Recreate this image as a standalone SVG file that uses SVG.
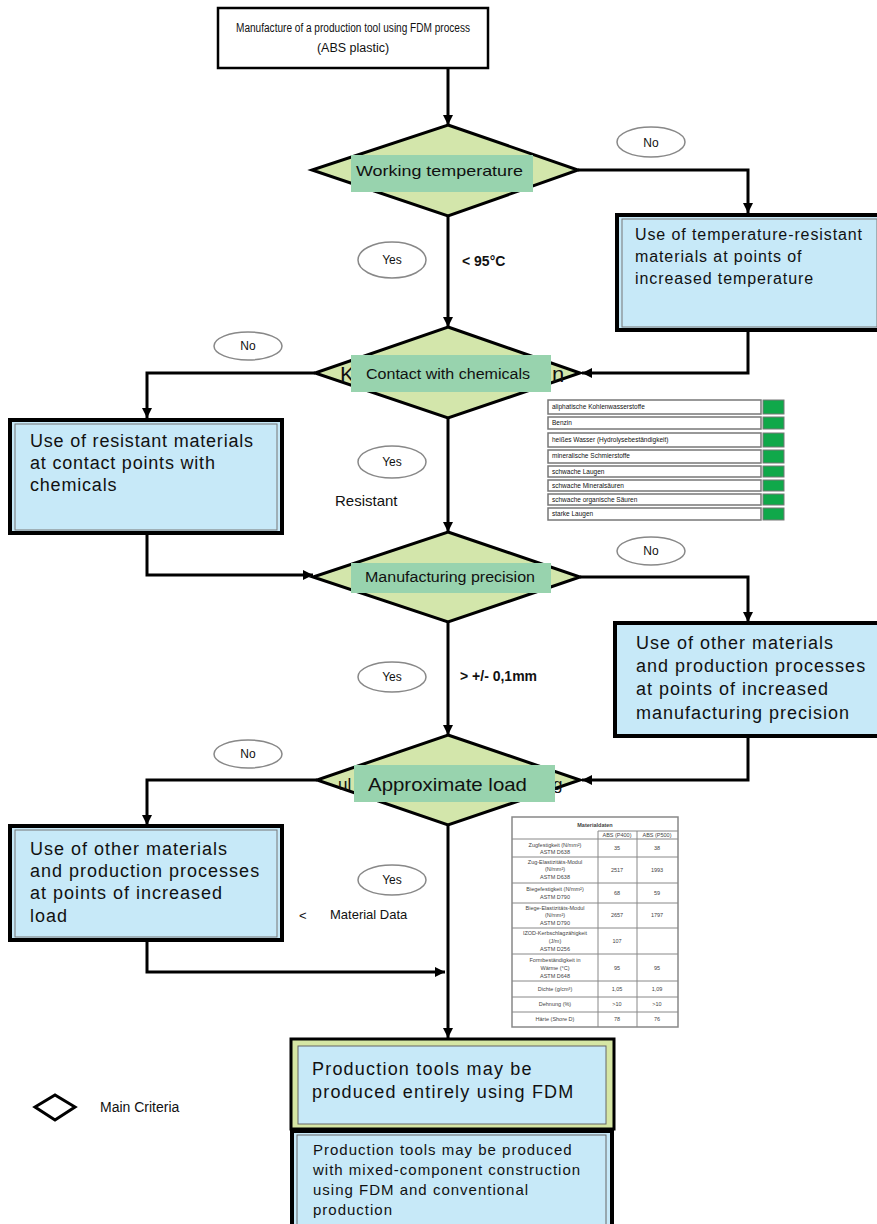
<svg xmlns="http://www.w3.org/2000/svg" width="877" height="1224" viewBox="0 0 877 1224">
<defs>
<marker id="arr" markerUnits="userSpaceOnUse" markerWidth="10" markerHeight="10" refX="10" refY="5" orient="auto">
<path d="M0,0 L10,5 L0,10 z" fill="#000"/>
</marker>
<style>
.t{font-family:"Liberation Sans",Arial,sans-serif;fill:#111}
.dia{fill:#d3e6ab;stroke:#000;stroke-width:3}
.lbl{fill:#98d3ae}
.box{fill:#c7e9f8;stroke:#000;stroke-width:4}
.inner{fill:none;stroke:#777;stroke-width:1}
.ell{fill:#fff;stroke:#888;stroke-width:1.5}
.con{fill:none;stroke:#000;stroke-width:3;marker-end:url(#arr)}
.row{fill:#fff;stroke:#777;stroke-width:1.5}
.sq{fill:#10a84a;stroke:#777;stroke-width:1}
.tb{fill:none;stroke:#888;stroke-width:1}
.tt{font-family:"Liberation Sans",Arial,sans-serif;fill:#444;font-size:5.5px;text-anchor:middle}
</style>
</defs>
<rect width="877" height="1224" fill="#fff"/>

<g id="connectors">
<path class="con" d="M448,68 V125"/>
<path class="con" d="M578,170 H748 V213"/>
<path class="con" d="M448,216 V327"/>
<path class="con" d="M748,330 V373 H582"/>
<path class="con" d="M315,373 H147 V418"/>
<path class="con" d="M448,418 V532"/>
<path class="con" d="M147,533 V575 H313"/>
<path class="con" d="M580,577 H748 V622"/>
<path class="con" d="M448,622 V735"/>
<path class="con" d="M748,736 V780 H582"/>
<path class="con" d="M317,780 H147 V825"/>
<path class="con" d="M448,825 V1038"/>
<path class="con" d="M147,940 V972 H445"/>
</g>

<g id="start">
<rect x="218" y="8" width="270" height="60" fill="#fff" stroke="#000" stroke-width="2.5"/>
<text class="t" x="236" y="32" font-size="12.5" textLength="234" lengthAdjust="spacingAndGlyphs">Manufacture of a production tool using FDM process</text>
<text class="t" x="353" y="52" font-size="12.5" text-anchor="middle">(ABS plastic)</text>
</g>

<g id="d-working-temperature">
<polygon class="dia" points="448,125 578,170 448,216 312,170"/>
<rect class="lbl" x="351" y="155" width="182" height="37"/>
<text class="t" x="356" y="176" font-size="15" textLength="167" lengthAdjust="spacingAndGlyphs">Working temperature</text>
</g>

<g id="d-contact-chemicals">
<polygon class="dia" points="448,327 580,373 448,418 315,373"/>
<text class="t" x="340" y="382" font-size="22" fill="#555">K</text>
<text class="t" x="552" y="382" font-size="22" fill="#555">n</text>
<rect class="lbl" x="351" y="355" width="200" height="37"/>
<text class="t" x="366" y="379" font-size="14" textLength="164" lengthAdjust="spacingAndGlyphs">Contact with chemicals</text>
</g>

<g id="d-manufacturing-precision">
<polygon class="dia" points="448,532 580,577 448,622 313,577"/>
<rect class="lbl" x="351" y="563" width="200" height="30"/>
<text class="t" x="365" y="582" font-size="14" textLength="170" lengthAdjust="spacingAndGlyphs">Manufacturing precision</text>
</g>

<g id="d-approximate-load">
<polygon class="dia" points="448,735 580,780 448,825 317,780"/>
<text class="t" x="338" y="790" font-size="17" fill="#333">ul</text>
<text class="t" x="553" y="790" font-size="17" fill="#333">g</text>
<rect class="lbl" x="354" y="765" width="201" height="37"/>
<text class="t" x="368" y="791" font-size="19" textLength="159" lengthAdjust="spacingAndGlyphs">Approximate load</text>
</g>

<g id="box-temp">
<rect class="box" x="617" y="215" width="262" height="115"/>
<rect class="inner" x="622" y="219" width="255" height="108"/>
<g class="t" font-size="16" letter-spacing="0.9">
<text x="635" y="240">Use of temperature-resistant</text>
<text x="635" y="262">materials at points of</text>
<text x="635" y="284">increased temperature</text>
</g>
</g>

<g id="box-chem">
<rect class="box" x="10" y="420" width="272" height="113"/>
<rect class="inner" x="15" y="424" width="262" height="106"/>
<g class="t" font-size="18" letter-spacing="0.8">
<text x="30" y="447">Use of resistant materials</text>
<text x="30" y="469">at contact points with</text>
<text x="30" y="491">chemicals</text>
</g>
</g>

<g id="box-precision">
<rect class="box" x="615" y="623" width="264" height="113"/>
<g class="t" font-size="18" letter-spacing="1">
<text x="636" y="649">Use of other materials</text>
<text x="636" y="672">and production processes</text>
<text x="636" y="695">at points of increased</text>
<text x="636" y="719">manufacturing precision</text>
</g>
</g>

<g id="box-load">
<rect class="box" x="10" y="826" width="272" height="114"/>
<rect class="inner" x="15" y="830" width="262" height="107"/>
<g class="t" font-size="18" letter-spacing="1">
<text x="30" y="855">Use of other materials</text>
<text x="30" y="877">and production processes</text>
<text x="30" y="899">at points of increased</text>
<text x="30" y="922">load</text>
</g>
</g>

<g id="labels">
<ellipse class="ell" cx="651" cy="142" rx="34" ry="15"/>
<text class="t" x="651" y="147" font-size="12" text-anchor="middle">No</text>
<ellipse class="ell" cx="392" cy="260" rx="34" ry="18"/>
<text class="t" x="392" y="264" font-size="12" text-anchor="middle">Yes</text>
<text class="t" x="462" y="266" font-size="14" font-weight="bold" fill="#333">&lt; 95°C</text>
<ellipse class="ell" cx="248" cy="346" rx="34" ry="14"/>
<text class="t" x="248" y="350" font-size="12" text-anchor="middle">No</text>
<ellipse class="ell" cx="392" cy="462" rx="34" ry="16"/>
<text class="t" x="392" y="466" font-size="12" text-anchor="middle">Yes</text>
<text class="t" x="335" y="506" font-size="15">Resistant</text>
<ellipse class="ell" cx="651" cy="551" rx="34" ry="14"/>
<text class="t" x="651" y="555" font-size="12" text-anchor="middle">No</text>
<ellipse class="ell" cx="392" cy="677" rx="34" ry="15"/>
<text class="t" x="392" y="681" font-size="12" text-anchor="middle">Yes</text>
<text class="t" x="460" y="681" font-size="14" font-weight="bold" fill="#333">&gt; +/- 0,1mm</text>
<ellipse class="ell" cx="248" cy="754" rx="34" ry="14"/>
<text class="t" x="248" y="758" font-size="12" text-anchor="middle">No</text>
<ellipse class="ell" cx="392" cy="880" rx="34" ry="15"/>
<text class="t" x="392" y="884" font-size="12" text-anchor="middle">Yes</text>
<text class="t" x="299" y="920" font-size="13">&lt;</text>
<text class="t" x="330" y="919" font-size="13">Material Data</text>
</g>

<g id="chem-table">
<rect class="row" x="548" y="400" width="213" height="14"/>
<rect class="row" x="548" y="417" width="213" height="12"/>
<rect class="row" x="548" y="433" width="213" height="14"/>
<rect class="row" x="548" y="450" width="213" height="13"/>
<rect class="row" x="548" y="466" width="213" height="11"/>
<rect class="row" x="548" y="480" width="213" height="11"/>
<rect class="row" x="548" y="494" width="213" height="11"/>
<rect class="row" x="548" y="508" width="213" height="12"/>
<rect class="sq" x="763" y="400" width="21" height="14"/>
<rect class="sq" x="763" y="417" width="21" height="12"/>
<rect class="sq" x="763" y="433" width="21" height="14"/>
<rect class="sq" x="763" y="450" width="21" height="13"/>
<rect class="sq" x="763" y="466" width="21" height="11"/>
<rect class="sq" x="763" y="480" width="21" height="11"/>
<rect class="sq" x="763" y="494" width="21" height="11"/>
<rect class="sq" x="763" y="508" width="21" height="12"/>
<g class="t" font-size="6.5" fill="#333">
<text x="552" y="409">aliphatische Kohlenwasserstoffe</text>
<text x="552" y="425">Benzin</text>
<text x="552" y="442">heißes Wasser (Hydrolysebeständigkeit)</text>
<text x="552" y="458">mineralische Schmierstoffe</text>
<text x="552" y="474">schwache Laugen</text>
<text x="552" y="488">schwache Mineralsäuren</text>
<text x="552" y="502">schwache organische Säuren</text>
<text x="552" y="516">starke Laugen</text>
</g>
</g>

<g id="material-table">
<rect x="512" y="817" width="166" height="210" fill="#fff" stroke="#888" stroke-width="1.5"/>
<path class="tb" d="M512,839 H678 M512,857 H678 M512,883 H678 M512,903 H678 M512,928 H678 M512,954 H678 M512,981 H678 M512,997 H678 M512,1012 H678 M598,831 V1027 M637,831 V1027 M598,831 H678"/>
<text class="tt" x="595" y="827" font-weight="bold" fill="#333">Materialdaten</text>
<text class="tt" x="617" y="837">ABS (P400)</text>
<text class="tt" x="657" y="837">ABS (P500)</text>
<text class="tt" x="555" y="847">Zugfestigkeit (N/mm²)</text>
<text class="tt" x="555" y="854">ASTM D638</text>
<text class="tt" x="617" y="850">35</text><text class="tt" x="657" y="850">38</text>
<text class="tt" x="555" y="864">Zug-Elastizitäts-Modul</text>
<text class="tt" x="555" y="871">(N/mm²)</text>
<text class="tt" x="555" y="879">ASTM D638</text>
<text class="tt" x="617" y="872">2517</text><text class="tt" x="657" y="872">1993</text>
<text class="tt" x="555" y="891">Biegefestigkeit (N/mm²)</text>
<text class="tt" x="555" y="899">ASTM D790</text>
<text class="tt" x="617" y="895">68</text><text class="tt" x="657" y="895">59</text>
<text class="tt" x="555" y="910">Biege-Elastizitäts-Modul</text>
<text class="tt" x="555" y="917">(N/mm²)</text>
<text class="tt" x="555" y="925">ASTM D790</text>
<text class="tt" x="617" y="917">2657</text><text class="tt" x="657" y="917">1797</text>
<text class="tt" x="555" y="935">IZOD-Kerbschlagzähigkeit</text>
<text class="tt" x="555" y="943">(J/m)</text>
<text class="tt" x="555" y="951">ASTM D256</text>
<text class="tt" x="617" y="943">107</text>
<text class="tt" x="555" y="962">Formbeständigkeit in</text>
<text class="tt" x="555" y="970">Wärme (°C)</text>
<text class="tt" x="555" y="978">ASTM D648</text>
<text class="tt" x="617" y="970">95</text><text class="tt" x="657" y="970">95</text>
<text class="tt" x="555" y="991">Dichte (g/cm³)</text>
<text class="tt" x="617" y="991">1,05</text><text class="tt" x="657" y="991">1,09</text>
<text class="tt" x="555" y="1006">Dehnung (%)</text>
<text class="tt" x="617" y="1006">&gt;10</text><text class="tt" x="657" y="1006">&gt;10</text>
<text class="tt" x="555" y="1021">Härte (Shore D)</text>
<text class="tt" x="617" y="1021">78</text><text class="tt" x="657" y="1021">76</text>
</g>

<g id="result-fdm">
<rect x="291" y="1039" width="323" height="90" fill="#d6e6a4" stroke="#000" stroke-width="3"/>
<rect x="298" y="1046" width="308" height="78" fill="#c7e9f8" stroke="#666" stroke-width="1"/>
<g class="t" font-size="18" letter-spacing="1.2">
<text x="312" y="1075">Production tools may be</text>
<text x="312" y="1098">produced entirely using FDM</text>
</g>
</g>

<g id="result-mixed">
<rect x="292" y="1131" width="320" height="100" fill="#c7e9f8" stroke="#000" stroke-width="4"/>
<rect x="297" y="1135" width="309" height="95" fill="none" stroke="#666" stroke-width="1"/>
<g class="t" font-size="15" letter-spacing="1">
<text x="313" y="1155">Production tools may be produced</text>
<text x="313" y="1175">with mixed-component construction</text>
<text x="313" y="1195">using FDM and conventional</text>
<text x="313" y="1215">production</text>
</g>
</g>

<g id="legend">
<polygon points="35,1107 55,1095 75,1107 55,1120" fill="#fff" stroke="#000" stroke-width="3"/>
<text class="t" x="100" y="1112" font-size="14">Main Criteria</text>
</g>
</svg>
